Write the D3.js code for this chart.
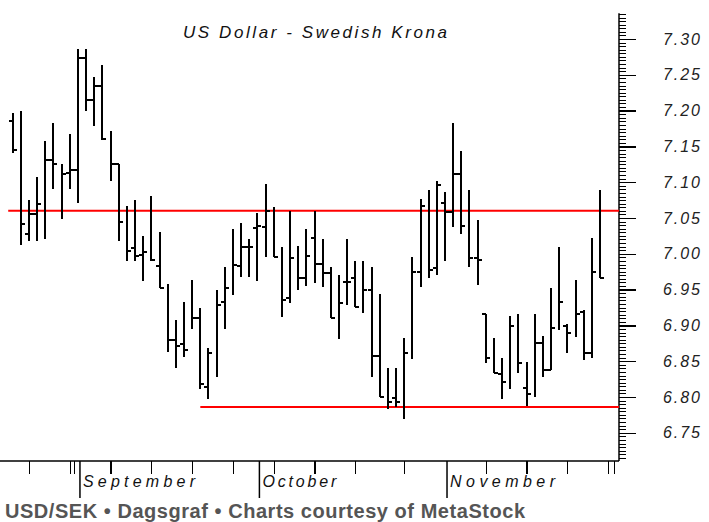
<!DOCTYPE html>
<html>
<head>
<meta charset="utf-8">
<script src="https://cdn.jsdelivr.net/npm/d3@7"></script>
<style>
	html, body { margin: 0; padding: 0; background: #fff; }
	svg { display: block; }
	text { font-family: "Liberation Sans", Arial, sans-serif; }
</style>
</head>
<body>
<svg id="chart"></svg>
<script>
// USD/SEK daily bars, late August to late November (bar index 0..72)
const high = [7.196,7.199,7.075,7.107,7.157,7.182,7.126,7.168,7.286,7.286,
	7.247,7.264,7.171,7.125,7.067,7.075,7.025,7.081,7.031,6.958,
	6.908,6.933,6.964,6.925,6.868,6.949,6.981,7.034,7.043,7.020,
	7.057,7.098,7.065,7.009,7.060,7.011,7.034,7.060,7.020,6.981,
	6.970,7.020,6.990,6.990,6.981,6.944,6.841,6.841,6.883,6.995,
	7.076,7.089,7.101,7.087,7.182,7.143,7.089,7.047,6.916,6.883,
	6.854,6.913,6.916,6.849,6.916,6.885,6.952,7.009,6.902,6.964,
	6.921,7.022,7.089];
const low = [7.141,7.012,7.018,7.018,7.020,7.090,7.049,7.090,7.071,7.200,
	7.178,7.159,7.102,7.018,6.990,6.990,6.962,6.990,6.952,6.863,
	6.841,6.856,6.895,6.811,6.797,6.828,6.895,6.942,6.968,6.968,
	6.962,6.996,6.996,6.912,6.931,6.950,6.955,6.959,6.953,6.910,
	6.881,6.928,6.926,6.917,6.828,6.800,6.783,6.786,6.769,6.853,
	6.954,6.966,6.970,6.990,7.038,7.027,6.982,6.956,6.848,6.833,
	6.797,6.811,6.833,6.787,6.800,6.828,6.838,6.893,6.861,6.884,
	6.851,6.855,6.966];
// null where no open tick is visible in the source
const open = [7.185,null,7.027,7.056,null,7.131,null,7.113,7.117,7.274,
	7.215,7.235,null,7.125,null,7.008,6.999,null,6.983,null,
	6.879,6.874,null,6.910,6.814,null,6.932,null,6.983,7.009,
	7.036,7.038,null,null,6.938,null,6.966,7.022,6.986,6.973,
	null,6.960,6.966,null,6.950,6.857,null,6.798,null,null,
	6.974,null,6.980,7.071,7.059,7.111,null,6.994,6.916,null,
	6.832,null,null,6.812,null,6.876,6.838,null,6.899,null,
	6.919,6.862,null];
const close = [7.145,7.042,7.056,7.070,7.131,7.125,7.111,7.117,7.274,7.215,
	7.235,7.161,7.125,7.044,7.004,6.997,7.003,6.991,6.952,6.879,
	6.871,6.865,6.910,6.818,6.862,6.929,6.952,6.985,7.009,7.009,
	7.039,7.060,6.996,6.935,6.994,6.966,6.997,6.986,6.973,6.910,
	6.931,6.960,6.926,6.950,6.857,6.800,6.793,6.793,6.862,6.974,
	7.067,6.977,7.096,7.059,7.111,7.039,6.994,6.991,6.854,6.833,
	6.821,6.899,6.848,6.804,6.876,6.838,6.897,6.932,6.890,6.916,
	6.862,6.974,6.966];

const months = ['September', 'October', 'November'];
const monthStart = [8, 30, 53];		// bar index of first trading day
const weekTicks = [2, 7, 7.5, 12, 17, 22, 27, 32, 37, 42, 48, 58, 63, 68, 73, 73.7];
const priceLabels = [6.75, 6.80, 6.85, 6.90, 6.95, 7.00, 7.05, 7.10, 7.15, 7.20, 7.25, 7.30];

// trend lines: resistance and support
const levels = [7.06, 6.786];
const levelStart = [-0.55, 23];

const title = 'US Dollar - Swedish Krona';
const caption = 'USD/SEK \u2022 Dagsgraf \u2022 Charts courtesy of MetaStock';

const width = 709, height = 522;
const axisX = 619, baseY = 461;
const fontFam = '"Liberation Sans", Arial, sans-serif';

const svg = d3.select('#chart').attr('width', width).attr('height', height);

const x = d3.scaleLinear().domain([0, high.length - 1]).range([12.7, 600]);
const y = d3.scaleLinear().domain([6.75, 7.30]).range([432.8, 39]);

// title
svg.append('text')
	.attr('x', 183).attr('y', 38)
	.attr('font-size', 17).attr('font-style', 'italic').attr('fill', '#111')
	.attr('textLength', 264).attr('lengthAdjust', 'spacing')
	.text(title);

// price axis on the right
const axisG = svg.append('g').attr('transform', `translate(${axisX},0)`);
axisG.append('line')
	.attr('x1', 0).attr('x2', 0)
	.attr('y1', y(7.336)).attr('y2', baseY)
	.attr('stroke', '#000').attr('stroke-width', 1.5);

const minor = d3.range(6715, 7340, 5).map(v => v / 1000);
const minorG = axisG.append('g')
	.call(d3.axisRight(y).tickValues(minor).tickSize(7).tickFormat(''));
const majorG = axisG.append('g')
	.call(d3.axisRight(y).tickValues(priceLabels).tickSize(17).tickPadding(27).tickFormat(d3.format('.2f')));
axisG.selectAll('.domain').remove();
axisG.selectAll('.tick line').attr('stroke', '#000').attr('stroke-width', 1).attr('shape-rendering', 'crispEdges');
majorG.selectAll('.tick line').attr('stroke-width', 1.4);
majorG.selectAll('.tick text')
	.attr('font-family', fontFam)
	.attr('font-size', 16).attr('font-style', 'italic').attr('fill', '#222')
	.attr('textLength', 37).attr('lengthAdjust', 'spacing');

// time axis
const xAxisG = svg.append('g').attr('transform', `translate(0,${baseY})`);
xAxisG.call(d3.axisBottom(x).tickValues(weekTicks).tickSize(13).tickFormat(''));
xAxisG.selectAll('.domain').remove();
xAxisG.selectAll('.tick line').attr('stroke', '#000').attr('stroke-width', 1.2).attr('shape-rendering', 'crispEdges');

const monthG = svg.append('g').attr('transform', `translate(0,${baseY})`);
monthG.append('line')
	.attr('x1', 0).attr('x2', axisX)
	.attr('y1', 0).attr('y2', 0)
	.attr('stroke', '#000').attr('stroke-width', 1.5);

const monthLen = [112, 74, 105];
monthG.selectAll('.month')
	.data(months)
	.enter().append('line')
		.attr('class', 'month')
		.attr('x1', (d, i) => x(monthStart[i]) + 2)
		.attr('x2', (d, i) => x(monthStart[i]) + 2)
		.attr('y1', 0).attr('y2', 37)
		.attr('stroke', '#000').attr('stroke-width', 1.5);
monthG.selectAll('.mlabel')
	.data(months)
	.enter().append('text')
		.attr('class', 'mlabel')
		.attr('x', (d, i) => x(monthStart[i]) + 5)
		.attr('y', 26)
		.attr('text-anchor', 'start')
		.attr('font-size', 16).attr('font-style', 'italic').attr('fill', '#111')
		.attr('textLength', (d, i) => monthLen[i]).attr('lengthAdjust', 'spacing')
		.text(d => d);

// horizontal trend lines
svg.append('g').selectAll('line')
	.data(levels)
	.enter().append('line')
		.attr('x1', (d, i) => x(levelStart[i]))
		.attr('x2', axisX)
		.attr('y1', d => y(d)).attr('y2', d => y(d))
		.attr('stroke', '#ff0000').attr('stroke-width', 2);

// OHLC bars
const bars = svg.append('g')
	.attr('stroke', '#000').attr('stroke-width', 2).attr('shape-rendering', 'crispEdges');
const idx = d3.range(high.length);
bars.selectAll('.hl').data(idx).enter().append('line')
	.attr('x1', i => x(i)).attr('x2', i => x(i))
	.attr('y1', i => y(high[i])).attr('y2', i => y(low[i]));
bars.selectAll('.op').data(idx.filter(i => open[i] != null)).enter().append('line')
	.attr('x1', i => x(i) - 4).attr('x2', i => x(i))
	.attr('y1', i => y(open[i])).attr('y2', i => y(open[i]));
bars.selectAll('.cl').data(idx).enter().append('line')
	.attr('x1', i => x(i)).attr('x2', i => x(i) + 4)
	.attr('y1', i => y(close[i])).attr('y2', i => y(close[i]));

// caption
svg.append('text')
	.attr('x', 5).attr('y', 518)
	.attr('font-size', 20).attr('font-weight', 'bold').attr('fill', '#555')
	.attr('textLength', 520).attr('lengthAdjust', 'spacing')
	.text(caption);
</script>
</body>
</html>
